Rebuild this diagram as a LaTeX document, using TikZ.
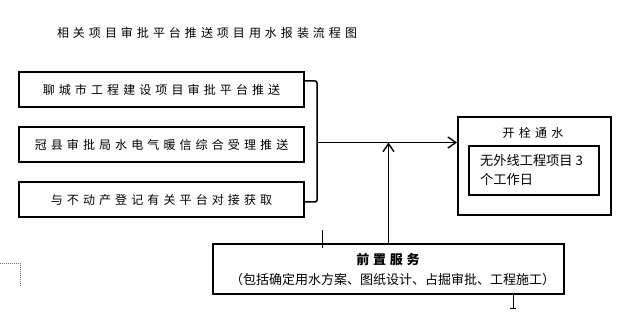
\documentclass[tikz,border=0pt]{standalone}
\usepackage{fontspec}
\setmainfont{Noto Sans CJK SC}
\usetikzlibrary{arrows.meta}
\newlength\spcamt
\def\spaced#1#2{\setlength\spcamt{#1}\spcloop#2\relax}
\def\spcloop#1{\ifx#1\relax\unskip\else#1\hskip\spcamt\relax\expandafter\spcloop\fi}
\tikzset{
  box/.style={draw=black, line width=1.8pt, inner sep=0pt},
  conn/.style={draw=black, line width=1.5pt},
  arr/.style={conn, -{Straight Barb[length=8pt,width=11pt,line width=1.4pt]}},
  lbl/.style={font=\fontsize{12pt}{14pt}\selectfont, inner sep=0pt},
  marginmark/.style={draw=black!55, line width=0.6pt, dash pattern=on 1pt off 1pt},
  cursor/.style={draw=black, line width=1pt}
}
\begin{document}
\begin{tikzpicture}[x=1pt,y=-1pt]
\useasboundingbox (0,0) rectangle (623,312);
% title
\node[lbl] (title) at (207,33) {\spaced{4pt}{相关项目审批平台推送项目用水报装流程图}};
% left boxes
\path[box] (19,72) rectangle (304,107) coordinate (b1se);
\node[lbl] (t1) at (161.5,89.5) {\spaced{4.1pt}{聊城市工程建设项目审批平台推送}};
\path[box] (19,127) rectangle (304,162);
\node[lbl] (t2) at (161.5,144.5) {\spaced{4.1pt}{冠县审批局水电气暖信综合受理推送}};
\path[box] (19,182) rectangle (304,217);
\node[lbl] (t3) at (161.5,199.5) {\spaced{4.1pt}{与不动产登记有关平台对接获取}};
\coordinate (b1r) at (304,81);
\coordinate (b3r) at (304,202);
\coordinate (mid) at (317,142.5);
% right box
\node[box, minimum width=153pt, minimum height=98pt] (right) at (534.5,166) {};
\node[lbl] (rt) at (533,133) {\spaced{4.3pt}{开栓通水}};
\node[box, minimum width=130pt, minimum height=49pt] (inner) at (534,170.5) {};
\node[font=\fontsize{13.2pt}{19pt}\selectfont, inner sep=0pt, anchor=north west, align=left] (it) at (480,154) {无外线工程项目 3\\个工作日};
% bottom box
\node[box, minimum width=351pt, minimum height=50pt] (bottom) at (388.5,269) {};
\node[font=\fontsize{13pt}{15pt}\selectfont\bfseries, inner sep=0pt] (bt) at (388,260) {\spaced{3.7pt}{前置服务}};
\node[font=\fontsize{13pt}{15pt}\selectfont, inner sep=0pt] (bs) at (392.5,280) {（包括确定用水方案、图纸设计、占掘审批、工程施工）};
% connectors
\draw[conn, rounded corners=2pt] (b1r) -| (mid |- b3r) -- (b3r);
\draw[arr] (mid) -- (right.west |- mid);
\coordinate (vj) at (bottom.north |- mid);
\draw[arr] (bottom.north) -- (vj);
% artifacts
\draw[marginmark] (0,263) -- (20,263) -- (20,287);
\draw[cursor] (322,230) -- (322,248);
\draw[cursor] (513,294) -- (513,308) (510,308) -- (516,308);
\end{tikzpicture}
\end{document}
